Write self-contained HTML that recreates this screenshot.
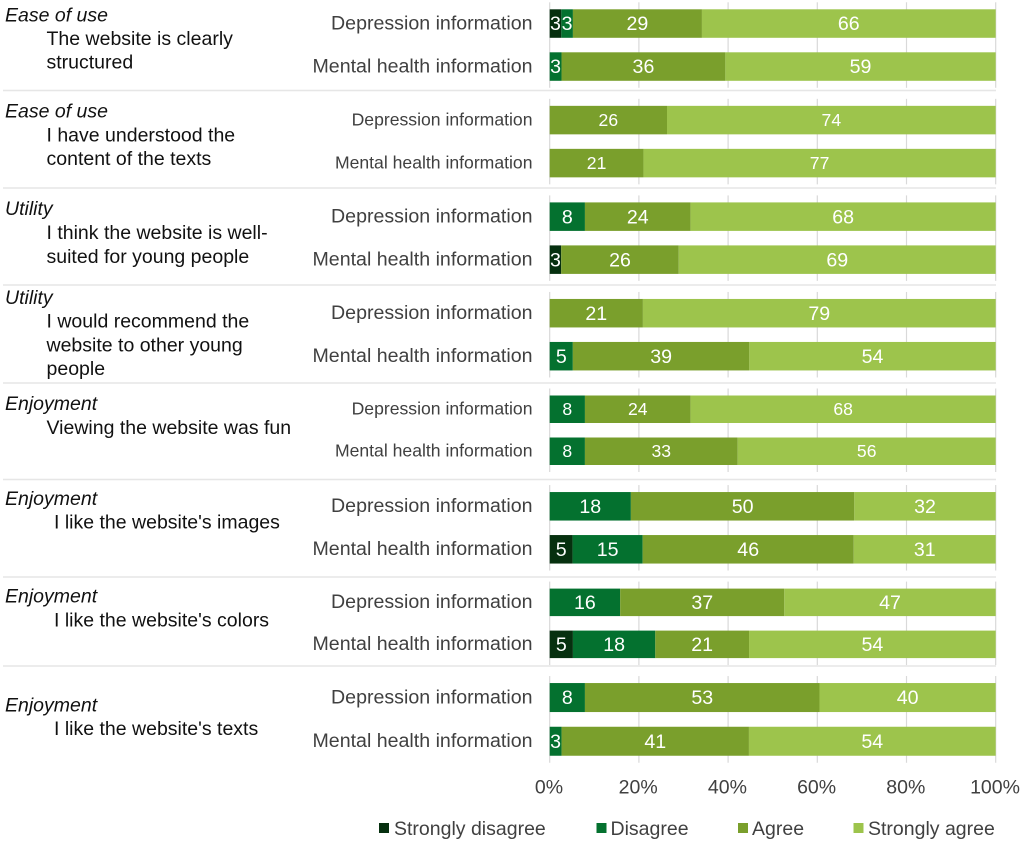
<!DOCTYPE html>
<html lang="en">
<head>
<meta charset="utf-8">
<title>Website evaluation ratings</title>
<style>
html,body{margin:0;padding:0;background:#fff;}
body{width:1022px;height:843px;overflow:hidden;}
svg{display:block;font-family:"Liberation Sans",Arial,sans-serif;filter:blur(0.3px);}
.theme{font-style:italic;font-size:19.5px;fill:#111;}
.item{font-size:19.5px;fill:#111;}
.legend-text{font-size:19.5px;fill:#404040;}
.sep{stroke:#e6e6e6;stroke-width:1.5;}
</style>
</head>
<body>
<svg id="chart" width="1022" height="843" viewBox="0 0 1022 843" xmlns="http://www.w3.org/2000/svg">
  <g>
    <line class="sep" x1="3" x2="996" y1="90.5" y2="90.5"/>
    <line class="sep" x1="3" x2="996" y1="188" y2="188"/>
    <line class="sep" x1="3" x2="996" y1="285" y2="285"/>
    <line class="sep" x1="3" x2="996" y1="383" y2="383"/>
    <line class="sep" x1="3" x2="996" y1="479.5" y2="479.5"/>
    <line class="sep" x1="3" x2="996" y1="577" y2="577"/>
    <line class="sep" x1="3" x2="996" y1="666" y2="666"/>
  </g>
  <g>
    <text class="theme" x="5" y="21.5">Ease of use</text>
    <text class="item" x="46.5" y="45">The website is clearly</text>
    <text class="item" x="46.5" y="68.5">structured</text>

    <text class="theme" x="5" y="117.5">Ease of use</text>
    <text class="item" x="46.5" y="141.5">I have understood the</text>
    <text class="item" x="46.5" y="165">content of the texts</text>

    <text class="theme" x="5" y="215">Utility</text>
    <text class="item" x="46.5" y="239">I think the website is well-</text>
    <text class="item" x="46.5" y="263">suited for young people</text>

    <text class="theme" x="5" y="304">Utility</text>
    <text class="item" x="46.5" y="327.5">I would recommend the</text>
    <text class="item" x="46.5" y="351.5">website to other young</text>
    <text class="item" x="46.5" y="375">people</text>

    <text class="theme" x="5" y="410">Enjoyment</text>
    <text class="item" x="46.5" y="434">Viewing the website was fun</text>

    <text class="theme" x="5" y="505">Enjoyment</text>
    <text class="item" x="54" y="528.5">I like the website's images</text>

    <text class="theme" x="5" y="602.5">Enjoyment</text>
    <text class="item" x="54" y="626.5">I like the website's colors</text>

    <text class="theme" x="5" y="711.5">Enjoyment</text>
    <text class="item" x="54" y="735">I like the website's texts</text>
  </g>
  <g id="grid"></g>
  <g id="bars"></g>
  <g id="rowLabels"></g>
  <g id="ticks"></g>
  <g>
    <rect x="379" y="823" width="10" height="10" fill="#06300f"/>
    <text class="legend-text" x="394" y="835">Strongly disagree</text>
    <rect x="596.5" y="823" width="10" height="10" fill="#04712f"/>
    <text class="legend-text" x="610.5" y="835">Disagree</text>
    <rect x="738" y="823" width="10" height="10" fill="#7a9f2c"/>
    <text class="legend-text" x="752" y="835">Agree</text>
    <rect x="853.5" y="823" width="10" height="10" fill="#9dc44c"/>
    <text class="legend-text" x="868" y="835">Strongly agree</text>
  </g>
</svg>
<script>
const rowNames = ["Depression information", "Mental health information"];
const tickValues = [0, 20, 40, 60, 80, 100];
const stronglyDisagree = [2.6, 0, 0, 0, 0, 2.5, 0, 0, 0, 0, 0, 5, 0, 5.1, 0, 0];
const disagree = [2.6, 2.6, 0, 0, 7.9, 0, 0, 5.1, 7.9, 7.7, 18.2, 15.3, 15.8, 18.1, 7.9, 2.6];
const agree = [28.9, 36, 26.3, 20.6, 23.7, 25.6, 20.9, 38.9, 23.7, 33.4, 50.1, 46.1, 36.8, 20.6, 52.6, 41];
const stronglyAgree = [65.8, 59.4, 73.7, 77.4, 68.4, 69, 79.1, 54.3, 68.4, 56.4, 31.7, 31, 47.4, 54.2, 39.5, 54];

const SVG_NS = "http://www.w3.org/2000/svg";
const seriesList = [stronglyDisagree, disagree, agree, stronglyAgree];
const seriesFill = ["#06300f", "#04712f", "#7a9f2c", "#9dc44c"];
const seriesKey = ["strongly-disagree", "disagree", "agree", "strongly-agree"];

function xScale(pct) { return 549.7 + pct * 4.46; }
function groupTop(g) { return 9.3 + 96.55 * g - (g === 7 ? 2.1 : 0); }
function barHeight(g) { return (g === 4 || g === 6) ? 27.5 : (g === 7 ? 29 : 28.5); }
function rowGap(g) { return (g === 4 || g === 6) ? 42 : (g === 7 ? 43.7 : 43); }
function rowTop(i) { const g = Math.floor(i / 2); return groupTop(g) + (i % 2) * rowGap(g); }

const gridLayer = document.getElementById("grid");
const barLayer = document.getElementById("bars");
const labelLayer = document.getElementById("rowLabels");
const tickLayer = document.getElementById("ticks");

for (let g = 0; g < stronglyDisagree.length / 2; g++) {
  tickValues.forEach(function (t) {
    const line = document.createElementNS(SVG_NS, "line");
    line.setAttribute("x1", xScale(t));
    line.setAttribute("x2", xScale(t));
    line.setAttribute("y1", groupTop(g) - 7);
    line.setAttribute("y2", groupTop(g) + rowGap(g) + barHeight(g) + 7);
    line.setAttribute("stroke", "#d9d9d9");
    line.setAttribute("stroke-width", "1.2");
    
    
    gridLayer.appendChild(line);
  });
}

stronglyDisagree.forEach(function (_, i) {
  const g = Math.floor(i / 2);
  const fontSize = (g === 1 || g === 4) ? 17.6 : 19.6;
  const top = rowTop(i);
  const h = barHeight(g);
  const mid = top + h / 2;
  const total = seriesList.reduce(function (sum, s) { return sum + s[i]; }, 0);

  const rowLabel = document.createElementNS(SVG_NS, "text");
  rowLabel.setAttribute("x", 532.5);
  rowLabel.setAttribute("y", mid + fontSize * 0.3);
  rowLabel.setAttribute("text-anchor", "end");
  rowLabel.setAttribute("font-size", fontSize);
  rowLabel.setAttribute("fill", "#404040");
  
  
  rowLabel.textContent = rowNames[i % 2];
  labelLayer.appendChild(rowLabel);

  let cumulative = 0;
  seriesList.forEach(function (series, s) {
    const value = series[i];
    if (value <= 0) { return; }
    const start = cumulative / total * 100;
    cumulative += value;
    const end = cumulative / total * 100;

    const rect = document.createElementNS(SVG_NS, "rect");
    rect.setAttribute("x", xScale(start));
    rect.setAttribute("y", top);
    rect.setAttribute("width", xScale(end) - xScale(start));
    rect.setAttribute("height", h);
    rect.setAttribute("fill", seriesFill[s]);
    
    
    barLayer.appendChild(rect);

    const valueLabel = document.createElementNS(SVG_NS, "text");
    valueLabel.setAttribute("x", (xScale(start) + xScale(end)) / 2);
    valueLabel.setAttribute("y", mid + fontSize * 0.34);
    valueLabel.setAttribute("text-anchor", "middle");
    valueLabel.setAttribute("font-size", fontSize);
    valueLabel.setAttribute("fill", "#ffffff");
    
    
    valueLabel.textContent = String(Math.round(value));
    labelLayer.appendChild(valueLabel);
  });
});

tickValues.forEach(function (t) {
  const tick = document.createElementNS(SVG_NS, "text");
  tick.setAttribute("x", xScale(t) - 0.7);
  tick.setAttribute("y", 793.5);
  tick.setAttribute("text-anchor", "middle");
  tick.setAttribute("font-size", "19.5");
  tick.setAttribute("fill", "#404040");
  
  
  tick.textContent = t + "%";
  tickLayer.appendChild(tick);
});
</script>
</body>
</html>
